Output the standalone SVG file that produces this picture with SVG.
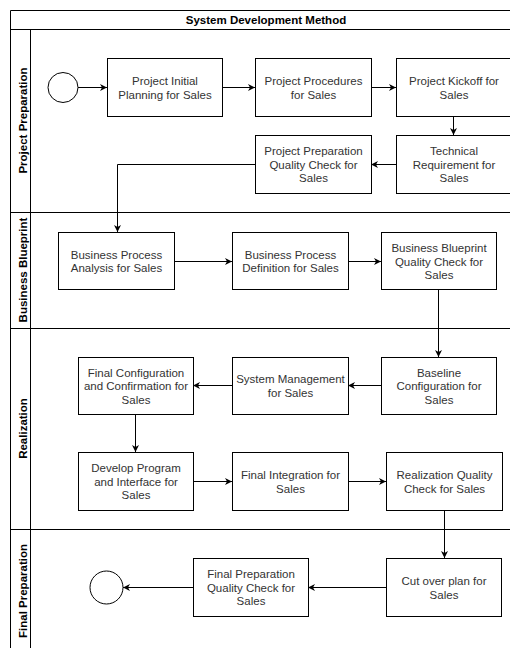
<svg xmlns="http://www.w3.org/2000/svg" width="510" height="648" viewBox="0 0 510 648">
<style>
.lane{stroke:#000;stroke-width:1;fill:none}
.box{fill:#fff;stroke:#000;stroke-width:1}
.circ{fill:#fff;stroke:#000;stroke-width:1}
.t{font-family:"Liberation Sans",Arial,sans-serif;font-size:11.5px;fill:#333;text-anchor:middle}
.h{font-family:"Liberation Sans",Arial,sans-serif;font-size:11.5px;font-weight:bold;fill:#000;text-anchor:middle}
.c{fill:none;stroke:#000;stroke-width:1;marker-end:url(#ah)}
</style>
<defs>
<marker id="ah" markerWidth="8" markerHeight="8" refX="7" refY="4" orient="auto" markerUnits="userSpaceOnUse">
<path d="M0,0.5 L7,4 L0,7.5 L2,4 Z" fill="#000"/>
</marker>
</defs>
<rect width="510" height="648" fill="#fff"/>
<g id="pool">
<path class="lane" d="M10.5,648 V10.5 H510 M10.5,29.5 H510 M30.5,29.5 V648 M10.5,212.5 H510 M10.5,328.5 H510 M10.5,529.5 H510"/>
<text class="h" x="266" y="24">System Development Method</text>
<text class="h" transform="translate(27,120.5) rotate(-90)">Project Preparation</text>
<text class="h" transform="translate(27,270) rotate(-90)">Business Blueprint</text>
<text class="h" transform="translate(27,428.5) rotate(-90)">Realization</text>
<text class="h" transform="translate(27,591) rotate(-90)">Final Preparation</text>
</g>
<g id="connectors">
<path class="c" d="M78,87.5 H107"/>
<path class="c" d="M222,87.5 H255"/>
<path class="c" d="M371,87.5 H396"/>
<path class="c" d="M453.5,116 V135"/>
<path class="c" d="M396,164.5 H371"/>
<path class="c" d="M255,164.5 H117.5 V232"/>
<path class="c" d="M174,261.5 H232"/>
<path class="c" d="M348,261.5 H381"/>
<path class="c" d="M438.5,289 V357"/>
<path class="c" d="M381,385.5 H348"/>
<path class="c" d="M232,385.5 H193"/>
<path class="c" d="M135.5,414 V452"/>
<path class="c" d="M193,481.5 H232"/>
<path class="c" d="M348,481.5 H386"/>
<path class="c" d="M444.5,510 V558"/>
<path class="c" d="M386,587.5 H308"/>
<path class="c" d="M193,587.5 H123"/>
</g>
<g id="start"><circle class="circ" cx="63" cy="87.5" r="15"/></g>
<g id="end"><circle class="circ" cx="106.5" cy="587.5" r="16.5"/></g>
<g id="n1"><rect class="box" x="107.5" y="58.5" width="115" height="58"/>
<text class="t" x="165" y="85">Project Initial</text><text class="t" x="165" y="98.5">Planning for Sales</text></g>
<g id="n2"><rect class="box" x="255.5" y="58.5" width="116" height="58"/>
<text class="t" x="313.5" y="85">Project Procedures</text><text class="t" x="313.5" y="98.5">for Sales</text></g>
<g id="n3"><rect class="box" x="396.5" y="58.5" width="116" height="58"/>
<text class="t" x="454" y="85">Project Kickoff for</text><text class="t" x="454" y="98.5">Sales</text></g>
<g id="n4"><rect class="box" x="396.5" y="135.5" width="116" height="58"/>
<text class="t" x="454" y="155.3">Technical</text><text class="t" x="454" y="168.8">Requirement for</text><text class="t" x="454" y="182.3">Sales</text></g>
<g id="n5"><rect class="box" x="255.5" y="135.5" width="116" height="58"/>
<text class="t" x="313.5" y="155.3">Project Preparation</text><text class="t" x="313.5" y="168.8">Quality Check for</text><text class="t" x="313.5" y="182.3">Sales</text></g>
<g id="n6"><rect class="box" x="58.5" y="232.5" width="116" height="57"/>
<text class="t" x="116.5" y="258.5">Business Process</text><text class="t" x="116.5" y="272">Analysis for Sales</text></g>
<g id="n7"><rect class="box" x="232.5" y="232.5" width="116" height="57"/>
<text class="t" x="290.5" y="258.5">Business Process</text><text class="t" x="290.5" y="272">Definition for Sales</text></g>
<g id="n8"><rect class="box" x="381.5" y="232.5" width="115" height="57"/>
<text class="t" x="439" y="252">Business Blueprint</text><text class="t" x="439" y="265.5">Quality Check for</text><text class="t" x="439" y="279">Sales</text></g>
<g id="n9"><rect class="box" x="381.5" y="357.5" width="115" height="57"/>
<text class="t" x="439" y="376.8">Baseline</text><text class="t" x="439" y="390.3">Configuration for</text><text class="t" x="439" y="403.8">Sales</text></g>
<g id="n10"><rect class="box" x="232.5" y="357.5" width="116" height="57"/>
<text class="t" x="290.5" y="383">System Management</text><text class="t" x="290.5" y="396.5">for Sales</text></g>
<g id="n11"><rect class="box" x="78.5" y="357.5" width="115" height="57"/>
<text class="t" x="136" y="376.8">Final Configuration</text><text class="t" x="136" y="390.3">and Confirmation for</text><text class="t" x="136" y="403.8">Sales</text></g>
<g id="n12"><rect class="box" x="78.5" y="452.5" width="115" height="58"/>
<text class="t" x="136" y="472.3">Develop Program</text><text class="t" x="136" y="485.8">and Interface for</text><text class="t" x="136" y="499.3">Sales</text></g>
<g id="n13"><rect class="box" x="232.5" y="452.5" width="116" height="58"/>
<text class="t" x="290.5" y="479">Final Integration for</text><text class="t" x="290.5" y="492.5">Sales</text></g>
<g id="n14"><rect class="box" x="386.5" y="452.5" width="116" height="58"/>
<text class="t" x="444.5" y="479">Realization Quality</text><text class="t" x="444.5" y="492.5">Check for Sales</text></g>
<g id="n15"><rect class="box" x="386.5" y="558.5" width="115" height="58"/>
<text class="t" x="444" y="585">Cut over plan for</text><text class="t" x="444" y="598.5">Sales</text></g>
<g id="n16"><rect class="box" x="193.5" y="558.5" width="115" height="58"/>
<text class="t" x="251" y="578.3">Final Preparation</text><text class="t" x="251" y="591.8">Quality Check for</text><text class="t" x="251" y="605.3">Sales</text></g>
</svg>
